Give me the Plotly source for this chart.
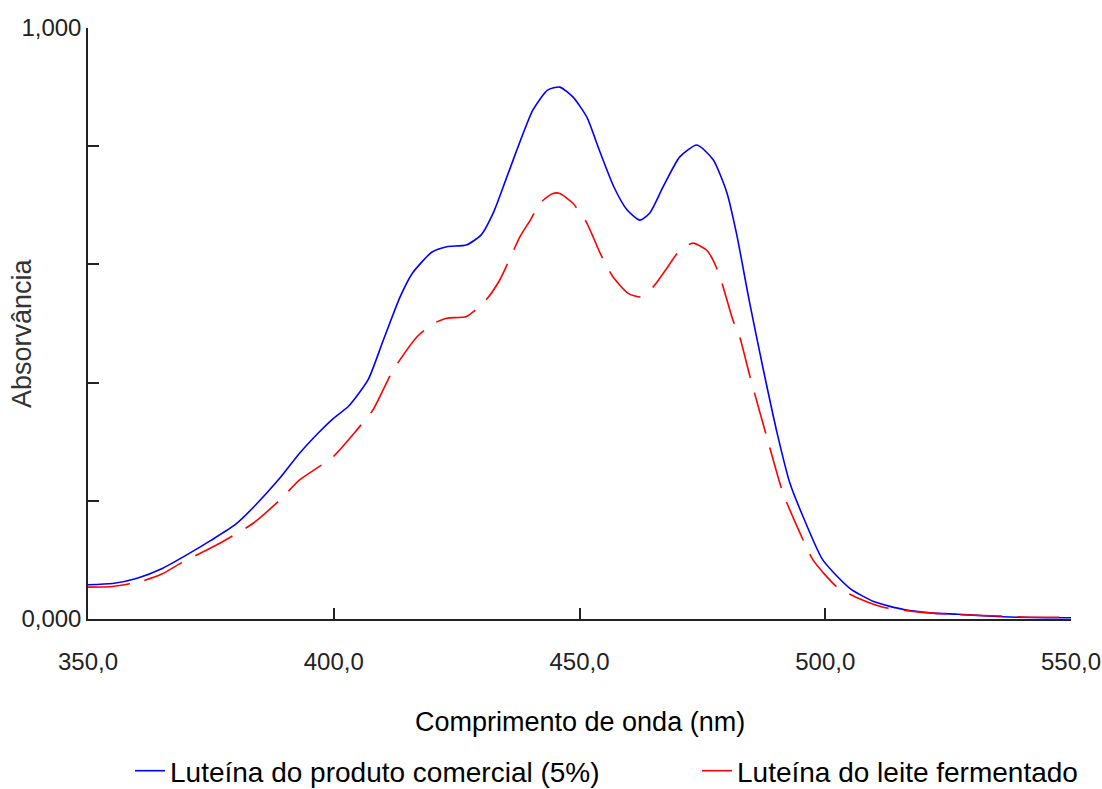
import plotly.graph_objects as go

# Wavelength (nm) and absorbance
x_comercial = [350, 355, 360, 365, 370, 375, 380, 384, 389, 393, 397, 400, 403, 407,
               410, 413.5, 416, 420, 423, 427, 430, 432.5, 435, 438, 440.5, 443.5, 446,
               448.7, 451.5, 454, 457, 459.7, 462.3, 464.3, 467, 470.4, 473.9, 477.2,
               480, 482, 484.5, 487.3, 490.2, 492.8, 495.5, 499.5, 505, 510, 516, 522,
               527, 533, 539, 545, 550]
y_comercial = [0.058, 0.060, 0.069, 0.085, 0.108, 0.133, 0.160, 0.192, 0.238, 0.280,
               0.316, 0.340, 0.360, 0.405, 0.470, 0.545, 0.585, 0.621, 0.630, 0.633,
               0.650, 0.688, 0.743, 0.810, 0.861, 0.895, 0.900, 0.883, 0.849, 0.794,
               0.731, 0.692, 0.675, 0.687, 0.731, 0.782, 0.802, 0.777, 0.721, 0.650,
               0.540, 0.426, 0.315, 0.230, 0.173, 0.100, 0.052, 0.029, 0.016, 0.010,
               0.008, 0.005, 0.003, 0.002, 0.002]

x_fermentado = [350, 355, 360.6, 365, 369, 377, 383.6, 389, 393, 399.8, 404.7, 408, 412,
                417, 420.3, 423, 427, 431, 433.8, 437.9, 440, 442, 444.6, 446, 448.7,
                451.5, 454.2, 456.8, 459.9, 462.3, 465, 467.8, 470.4, 473.1, 475.9,
                477.2, 478.6, 481.2, 482.6, 484.7, 488.1, 491.4, 494.3, 497.5, 502.4,
                506.5, 511.8, 518.7, 525.4, 535.6, 542, 550]
y_fermentado = [0.054, 0.055, 0.063, 0.076, 0.095, 0.129, 0.162, 0.201, 0.235, 0.274,
                0.320, 0.354, 0.420, 0.478, 0.500, 0.509, 0.512, 0.540, 0.574, 0.647,
                0.675, 0.704, 0.720, 0.720, 0.703, 0.670, 0.619, 0.579, 0.551, 0.545,
                0.562, 0.594, 0.624, 0.636, 0.624, 0.607, 0.579, 0.506, 0.477, 0.410,
                0.308, 0.213, 0.156, 0.100, 0.054, 0.036, 0.020, 0.012, 0.008, 0.005,
                0.003, 0.003]

x_ticks = [350, 400, 450, 500, 550]
x_ticktext = ["350,0", "400,0", "450,0", "500,0", "550,0"]
y_ticks = [0, 0.2, 0.4, 0.6, 0.8, 1.0]
y_ticktext = ["0,000", "", "", "", "", "1,000"]

name_comercial = "Luteína do produto comercial (5%)"
name_fermentado = "Luteína do leite fermentado"

fig = go.Figure()
fig.add_trace(go.Scatter(x=x_comercial, y=y_comercial, mode="lines",
                         name=name_comercial, legend="legend",
                         line=dict(color="#0000FF", width=1.6, shape="spline", smoothing=0.6)))
fig.add_trace(go.Scatter(x=x_fermentado, y=y_fermentado, mode="lines",
                         name=name_fermentado, legend="legend2",
                         line=dict(color="#FF0000", width=1.6, dash="42px,15px",
                                   shape="spline", smoothing=0.6)))

font_family = "Arial, Liberation Sans, sans-serif"
legend_font = dict(size=28, color="#000000", family=font_family)
legend_y = (619 - 771) / 591

fig.update_layout(
    width=1102, height=789,
    margin=dict(l=88, r=31, t=28, b=170, autoexpand=False),
    paper_bgcolor="white", plot_bgcolor="white",
    font=dict(family=font_family, color="#222222"),
    showlegend=True,
    legend=dict(orientation="h", x=(130 - 88) / 983, xanchor="left",
                y=legend_y, yanchor="middle", font=legend_font,
                bgcolor="rgba(0,0,0,0)"),
    legend2=dict(orientation="h", x=(697 - 88) / 983, xanchor="left",
                 y=legend_y, yanchor="middle", font=legend_font,
                 bgcolor="rgba(0,0,0,0)"),
    xaxis=dict(range=[350, 550], tickvals=x_ticks, ticktext=x_ticktext,
               ticks="inside", ticklen=11, tickwidth=1.5, tickcolor="#222222",
               showline=True, linecolor="#222222", linewidth=1.5,
               showgrid=False, zeroline=False, ticklabelstandoff=20,
               ticklabeloverflow="allow",
               tickfont=dict(size=24, color="#222222")),
    yaxis=dict(range=[0, 1], tickvals=y_ticks, ticktext=y_ticktext,
               ticks="inside", ticklen=11, tickwidth=1.5, tickcolor="#222222",
               showline=True, linecolor="#222222", linewidth=1.5,
               showgrid=False, zeroline=False, ticklabeloverflow="allow",
               tickfont=dict(size=24, color="#222222")),
    annotations=[
        dict(text="Comprimento de onda (nm)", xref="paper", yref="paper",
             x=0.5005, y=-0.174, xanchor="center", yanchor="middle", showarrow=False,
             font=dict(size=27, color="#000000", family=font_family)),
        dict(text="Absorvância", xref="paper", yref="paper",
             x=-0.067, y=0.484, xanchor="center", yanchor="middle", showarrow=False,
             textangle=-90, font=dict(size=27, color="#333333", family=font_family)),
    ],
)

fig.write_html("out.html")
